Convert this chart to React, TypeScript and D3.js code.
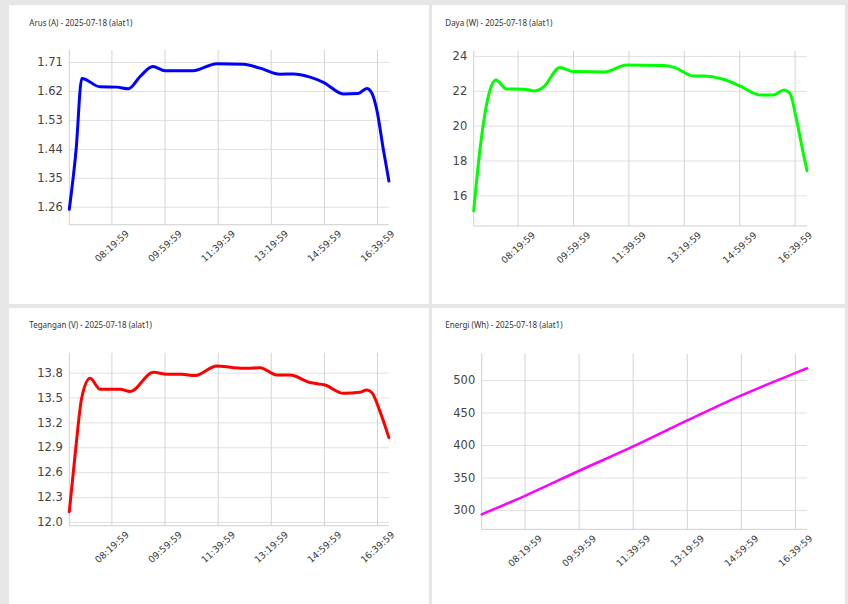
import React, { useEffect, useRef } from 'react';
import * as d3 from 'd3';

// shared x axis
const xTickLabels = ['08:19:59', '09:59:59', '11:39:59', '13:19:59', '14:59:59', '16:39:59'];
const xStart = '07:00:45';
const xEnd = '17:02:20';
const dateLabel = '2025-07-18 (alat1)';

// Arus (A)
const arusTimes = [
  '07:00:45', '07:13:32', '07:24:16', '07:58:43', '08:30:09', '08:52:00', '09:14:00',
  '09:37:54', '10:01:06', '10:53:47', '11:38:23', '12:28:24', '12:59:53', '13:37:30', '14:02:34',
  '14:34:00', '14:59:00', '15:36:40', '16:04:54', '16:20:42', '16:30:06', '16:39:30', '16:51:58', '17:02:20',
];
const arusValues = [
  1.252, 1.437, 1.659, 1.633, 1.632, 1.627, 1.665,
  1.696, 1.683, 1.683, 1.705, 1.703, 1.691, 1.672, 1.673,
  1.663, 1.647, 1.611, 1.612, 1.628, 1.614, 1.562, 1.437, 1.34,
];
const arusTicks = [1.26, 1.35, 1.44, 1.53, 1.62, 1.71];

// Daya (W)
const dayaTimes = [
  '07:00:45', '07:11:56', '07:28:00', '07:40:49', '08:00:08', '08:30:06', '08:51:12', '09:06:12',
  '09:36:20', '10:00:22', '10:57:36', '11:36:46', '12:42:48', '13:03:54', '13:37:00', '13:55:00',
  '14:31:06', '15:01:18', '15:37:24', '16:01:24', '16:20:42', '16:31:30', '16:42:18', '16:54:24', '17:02:20',
];
const dayaValues = [
  15.11, 18.6, 21.8, 22.62, 22.1, 22.09, 21.99, 22.2,
  23.33, 23.1, 23.08, 23.48, 23.45, 23.33, 22.85, 22.85,
  22.66, 22.28, 21.76, 21.76, 22.05, 21.86, 20.51, 18.6, 17.41,
];
const dayaTicks = [16, 18, 20, 22, 24];

// Tegangan (V)
const teganganTimes = [
  '07:00:45', '07:11:40', '07:24:16', '07:39:53', '07:58:43', '08:36:21', '08:55:12', '09:39:02',
  '10:04:15', '10:32:30', '10:57:30', '11:38:23', '12:09:36', '12:34:48', '12:59:53', '13:31:18',
  '13:56:18', '14:34:00', '15:02:12', '15:36:40', '16:08:06', '16:20:42', '16:30:06', '16:45:42', '17:02:20',
];
const teganganValues = [
  12.124, 12.81, 13.5, 13.733, 13.6, 13.6, 13.571, 13.805,
  13.78, 13.78, 13.764, 13.88, 13.86, 13.853, 13.86, 13.77,
  13.77, 13.68, 13.65, 13.55, 13.563, 13.59, 13.56, 13.33, 13.016,
];
const teganganTicks = [12.0, 12.3, 12.6, 12.9, 13.2, 13.5, 13.8];

// Energi (Wh)
const energiTimes = [
  '07:00:45', '08:19:59', '09:59:59', '11:39:59', '13:19:59', '14:59:59', '16:39:59', '17:02:20',
];
const energiValues = [293.4, 321.5, 360, 397.4, 437.4, 476, 510.5, 518];
const energiTicks = [300, 350, 400, 450, 500];

const parseTime = d3.timeParse('%H:%M:%S');

interface PanelCfg {
  box: [number, number, number, number];
  titleAt: [number, number];
  plot: { left: number; top: number; right: number; bottom: number };
  title: string;
  times: string[];
  values: number[];
  yDomain: [number, number];
  yTicks: number[];
  yFormat: (v: number) => string;
  color: string;
  width: number;
}

const panels: PanelCfg[] = [
  {
    box: [9, 5, 420, 299], titleAt: [29.3, 26],
    plot: { left: 69.3, top: 50, right: 388.9, bottom: 224.7 },
    title: `Arus (A) - ${dateLabel}`, times: arusTimes, values: arusValues,
    yDomain: [1.204, 1.7475], yTicks: arusTicks, yFormat: d3.format('.2f'),
    color: '#0000ff', width: 3,
  },
  {
    box: [432, 5, 413, 299], titleAt: [445.3, 26],
    plot: { left: 473.7, top: 50.7, right: 807, bottom: 226 },
    title: `Daya (W) - ${dateLabel}`, times: dayaTimes, values: dayaValues,
    yDomain: [14.24, 24.3], yTicks: dayaTicks, yFormat: d3.format('d'),
    color: '#00ff00', width: 3,
  },
  {
    box: [9, 308, 420, 300], titleAt: [29.3, 328.3],
    plot: { left: 69.3, top: 352.7, right: 388.9, bottom: 525.7 },
    title: `Tegangan (V) - ${dateLabel}`, times: teganganTimes, values: teganganValues,
    yDomain: [11.955, 14.04], yTicks: teganganTicks, yFormat: d3.format('.1f'),
    color: '#ff0000', width: 3,
  },
  {
    box: [432, 308, 413, 300], titleAt: [445.3, 328.3],
    plot: { left: 481.7, top: 354, right: 807, bottom: 529.3 },
    title: `Energi (Wh) - ${dateLabel}`, times: energiTimes, values: energiValues,
    yDomain: [270.3, 540], yTicks: energiTicks, yFormat: d3.format('d'),
    color: '#ff00ff', width: 2.5,
  },
];

const App: React.FC = () => {
  const svgRef = useRef<SVGSVGElement>(null);

  useEffect(() => {
    if (!svgRef.current) return;
    const svg = d3.select(svgRef.current);
    svg.selectAll('*').remove();

    svg.append('rect').attr('width', 848).attr('height', 604).attr('fill', '#e6e6e6');

    panels.forEach(p => {
      const { left, top, right, bottom } = p.plot;
      const g = svg.append('g');

      g.append('rect')
        .attr('x', p.box[0]).attr('y', p.box[1])
        .attr('width', p.box[2]).attr('height', p.box[3])
        .attr('fill', '#fff');

      g.append('text')
        .attr('x', p.titleAt[0]).attr('y', p.titleAt[1])
        .attr('font-family', '"Noto Sans", sans-serif')
        .attr('font-size', 8)
        .attr('fill', '#333')
        .text(p.title);

      const x = d3.scaleTime()
        .domain([parseTime(xStart)!, parseTime(xEnd)!])
        .range([left, right]);
      const y = d3.scaleLinear().domain(p.yDomain).range([bottom, top]);

      // y axis + horizontal grid
      const yAxis = g.append('g')
        .attr('transform', `translate(${left},0)`)
        .call(d3.axisLeft(y).tickValues(p.yTicks).tickFormat(d => p.yFormat(d as number))
          .tickSize(-(right - left)).tickPadding(6.5));
      yAxis.select('.domain').remove();
      yAxis.selectAll('.tick line').attr('stroke', '#e0e0e0').attr('stroke-width', 1);
      yAxis.selectAll('.tick text')
        .attr('font-family', '"DejaVu Sans", sans-serif')
        .attr('font-size', 11.5)
        .attr('fill', '#444');

      // x axis + vertical grid
      const xAxis = g.append('g')
        .attr('transform', `translate(0,${bottom})`)
        .call(d3.axisBottom(x).tickValues(xTickLabels.map(t => parseTime(t)!))
          .tickFormat(d3.timeFormat('%H:%M:%S') as any)
          .tickSize(-(bottom - top)));
      xAxis.select('.domain').remove();
      xAxis.selectAll('.tick line').attr('stroke', '#d4d4d4').attr('stroke-width', 1);
      xAxis.selectAll('.tick text')
        .attr('font-family', '"DejaVu Sans", sans-serif')
        .attr('font-size', 9.3)
        .attr('fill', '#3a3a3a')
        .attr('text-anchor', 'middle')
        .attr('x', 0).attr('y', 21.5).attr('dy', '0.35em')
        .attr('transform', 'rotate(-42, 0, 21.5)');

      // axis lines
      g.append('line')
        .attr('x1', left).attr('x2', left).attr('y1', top).attr('y2', bottom)
        .attr('stroke', '#cfcfcf');
      g.append('line')
        .attr('x1', left).attr('x2', right).attr('y1', bottom).attr('y2', bottom)
        .attr('stroke', '#cfcfcf');

      const pts: [Date, number][] = p.times.map((t, i) => [parseTime(t)!, p.values[i]]);
      const line = d3.line<[Date, number]>()
        .x(d => x(d[0]))
        .y(d => y(d[1]))
        .curve(d3.curveMonotoneX);

      g.append('path')
        .datum(pts)
        .attr('fill', 'none')
        .attr('stroke', p.color)
        .attr('stroke-width', p.width)
        .attr('stroke-linejoin', 'round')
        .attr('stroke-linecap', 'round')
        .attr('d', line);
    });
  }, []);

  return (
    <div style={{ position: 'absolute', left: 0, top: 0 }}>
      <svg ref={svgRef} width={848} height={604} style={{ display: 'block' }} />
    </div>
  );
};

export default App;
